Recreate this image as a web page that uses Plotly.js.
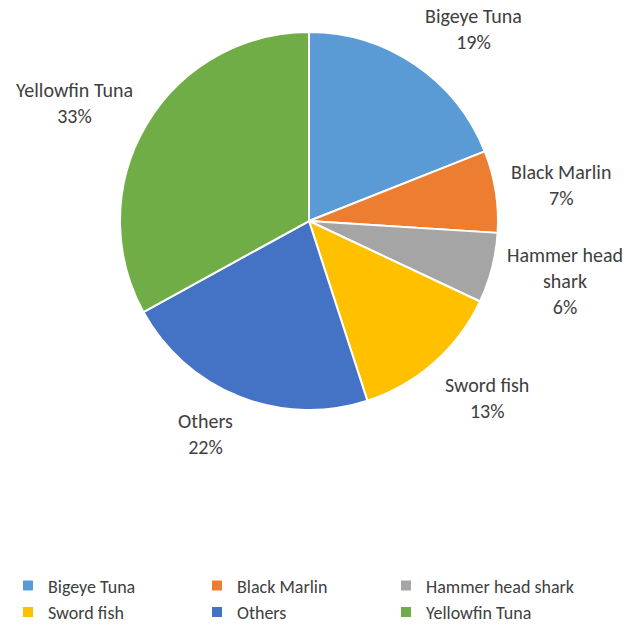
<!DOCTYPE html>
<html>
<head>
<meta charset="utf-8">
<script src="https://cdn.plot.ly/plotly-3.0.1.min.js"></script>
<style>html,body{margin:0;padding:0;background:#fff;}#chart{width:625px;height:631px;}</style>
</head>
<body>
<div id="chart"></div>
<script>
const categories = ["Bigeye Tuna", "Black Marlin", "Hammer head shark", "Sword fish", "Others", "Yellowfin Tuna"];
const sliceLabels = ["Bigeye Tuna", "Black Marlin", "Hammer head<br>shark", "Sword fish", "Others", "Yellowfin Tuna"];
const shares = [19, 7, 6, 13, 22, 33];
const colors = ["#5B9BD5", "#ED7D31", "#A5A5A5", "#FFC000", "#4472C4", "#70AD47"];

const font = "Calibri, Carlito, Lato, 'Open Sans', sans-serif";
const W = 625, H = 631;
const domX = [0.192, 0.7968], domY = [0.3502, 0.9493];

const trace = {
  type: "pie",
  labels: categories,
  values: shares,
  textinfo: "none",
  sort: false,
  direction: "clockwise",
  rotation: 0,
  marker: {colors: colors, line: {color: "#ffffff", width: 2}},
  domain: {x: domX, y: domY},
  hoverinfo: "label+percent"
};

// Data labels placed outside the slices (Excel "best fit" style),
// positioned from each slice's mid-angle.
const total = shares.reduce((a, b) => a + b, 0);
const cx = (domX[0] + domX[1]) / 2 * W;
const cy = (1 - (domY[0] + domY[1]) / 2) * H;
const r = Math.min((domX[1] - domX[0]) * W, (domY[1] - domY[0]) * H) / 2;
const gap = 13, lineH = 25;
let cum = 0;
const annotations = shares.map((v, i) => {
  const m = (cum + v / 2) / total;
  cum += v;
  const th = 2 * Math.PI * m;
  const ux = Math.sin(th), uy = -Math.cos(th);
  const px = cx + (r + gap) * ux;
  const py = cy + (r + gap) * uy;
  const nLines = sliceLabels[i].split("<br>").length + 1;
  const h = nLines * lineH;
  const ky = Math.max(-1, Math.min(1, uy / Math.max(Math.abs(ux), 1e-6)));
  const centerY = py + (h / 2) * ky;
  return {
    x: px / W,
    y: 1 - centerY / H,
    xref: "paper",
    yref: "paper",
    xanchor: ux >= 0 ? "left" : "right",
    yanchor: "middle",
    align: "center",
    showarrow: false,
    text: sliceLabels[i] + "<br>" + Math.round(v / total * 100) + "%",
    font: {family: font, size: 20, color: "#404040"}
  };
});

const layout = {
  width: W,
  height: H,
  margin: {l: 0, r: 0, t: 0, b: 0},
  paper_bgcolor: "#ffffff",
  showlegend: true,
  annotations: annotations,
  legend: {
    orientation: "h",
    x: 0.0128,
    xanchor: "left",
    y: 0.051,
    yanchor: "middle",
    entrywidth: 144,
    entrywidthmode: "pixels",
    font: {family: font, size: 18, color: "#404040"},
    traceorder: "normal"
  }
};

Plotly.newPlot("chart", [trace], layout, {displayModeBar: false, staticPlot: true});
</script>
</body>
</html>
